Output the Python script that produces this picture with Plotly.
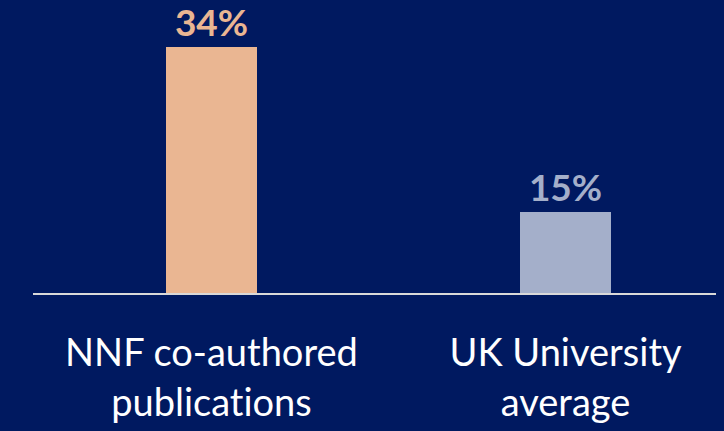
import plotly.graph_objects as go

categories = ["NNF co-authored<br>publications", "UK University<br>average"]
values = [34, 15]
value_labels = ["34%", "15%"]
bar_colors = ["#EAB692", "#A4AFCA"]

BG = "#001960"

fig = go.Figure()
fig.add_trace(go.Bar(
    x=categories,
    y=values,
    marker=dict(color=bar_colors, line=dict(width=0)),
    width=0.257,
    text=value_labels,
    textposition="outside",
    textfont=dict(family="Lato", size=37, color=bar_colors, weight="bold"),
    constraintext="none",
    cliponaxis=False,
    hoverinfo="skip",
))

fig.update_layout(
    width=724, height=431,
    paper_bgcolor=BG, plot_bgcolor=BG,
    margin=dict(l=33, r=8, t=0, b=138),
    showlegend=False,
    bargap=0,
    font=dict(family="Lato", color="white"),
)
fig.update_xaxes(
    range=[-0.504, 1.425],
    showline=True, linecolor="#D9D9D9", linewidth=1.5,
    showgrid=False, zeroline=False,
    ticks="outside", ticklen=26, tickcolor="rgba(0,0,0,0)",
    tickfont=dict(family="Lato", size=38, color="white"),
)
fig.update_yaxes(
    range=[5.67, 39.41],
    visible=False, showgrid=False, zeroline=False,
)

post = (
    "document.body.style.margin='0';"
    "document.body.style.background='" + BG + "';"
    "var s=document.createElement('style');"
    "s.textContent='text, tspan{font-variant-ligatures:none !important;"
    "font-feature-settings:\"liga\" 0, \"clig\" 0, \"dlig\" 0 !important;}';"
    "document.head.appendChild(s);"
    "document.querySelectorAll('text').forEach(function(t){"
    "t.style.fontVariantLigatures='none';"
    "t.style.fontFeatureSettings='\"liga\" 0, \"clig\" 0';});"
)

fig.write_html("out.html", post_script=post, config={"displayModeBar": False})
